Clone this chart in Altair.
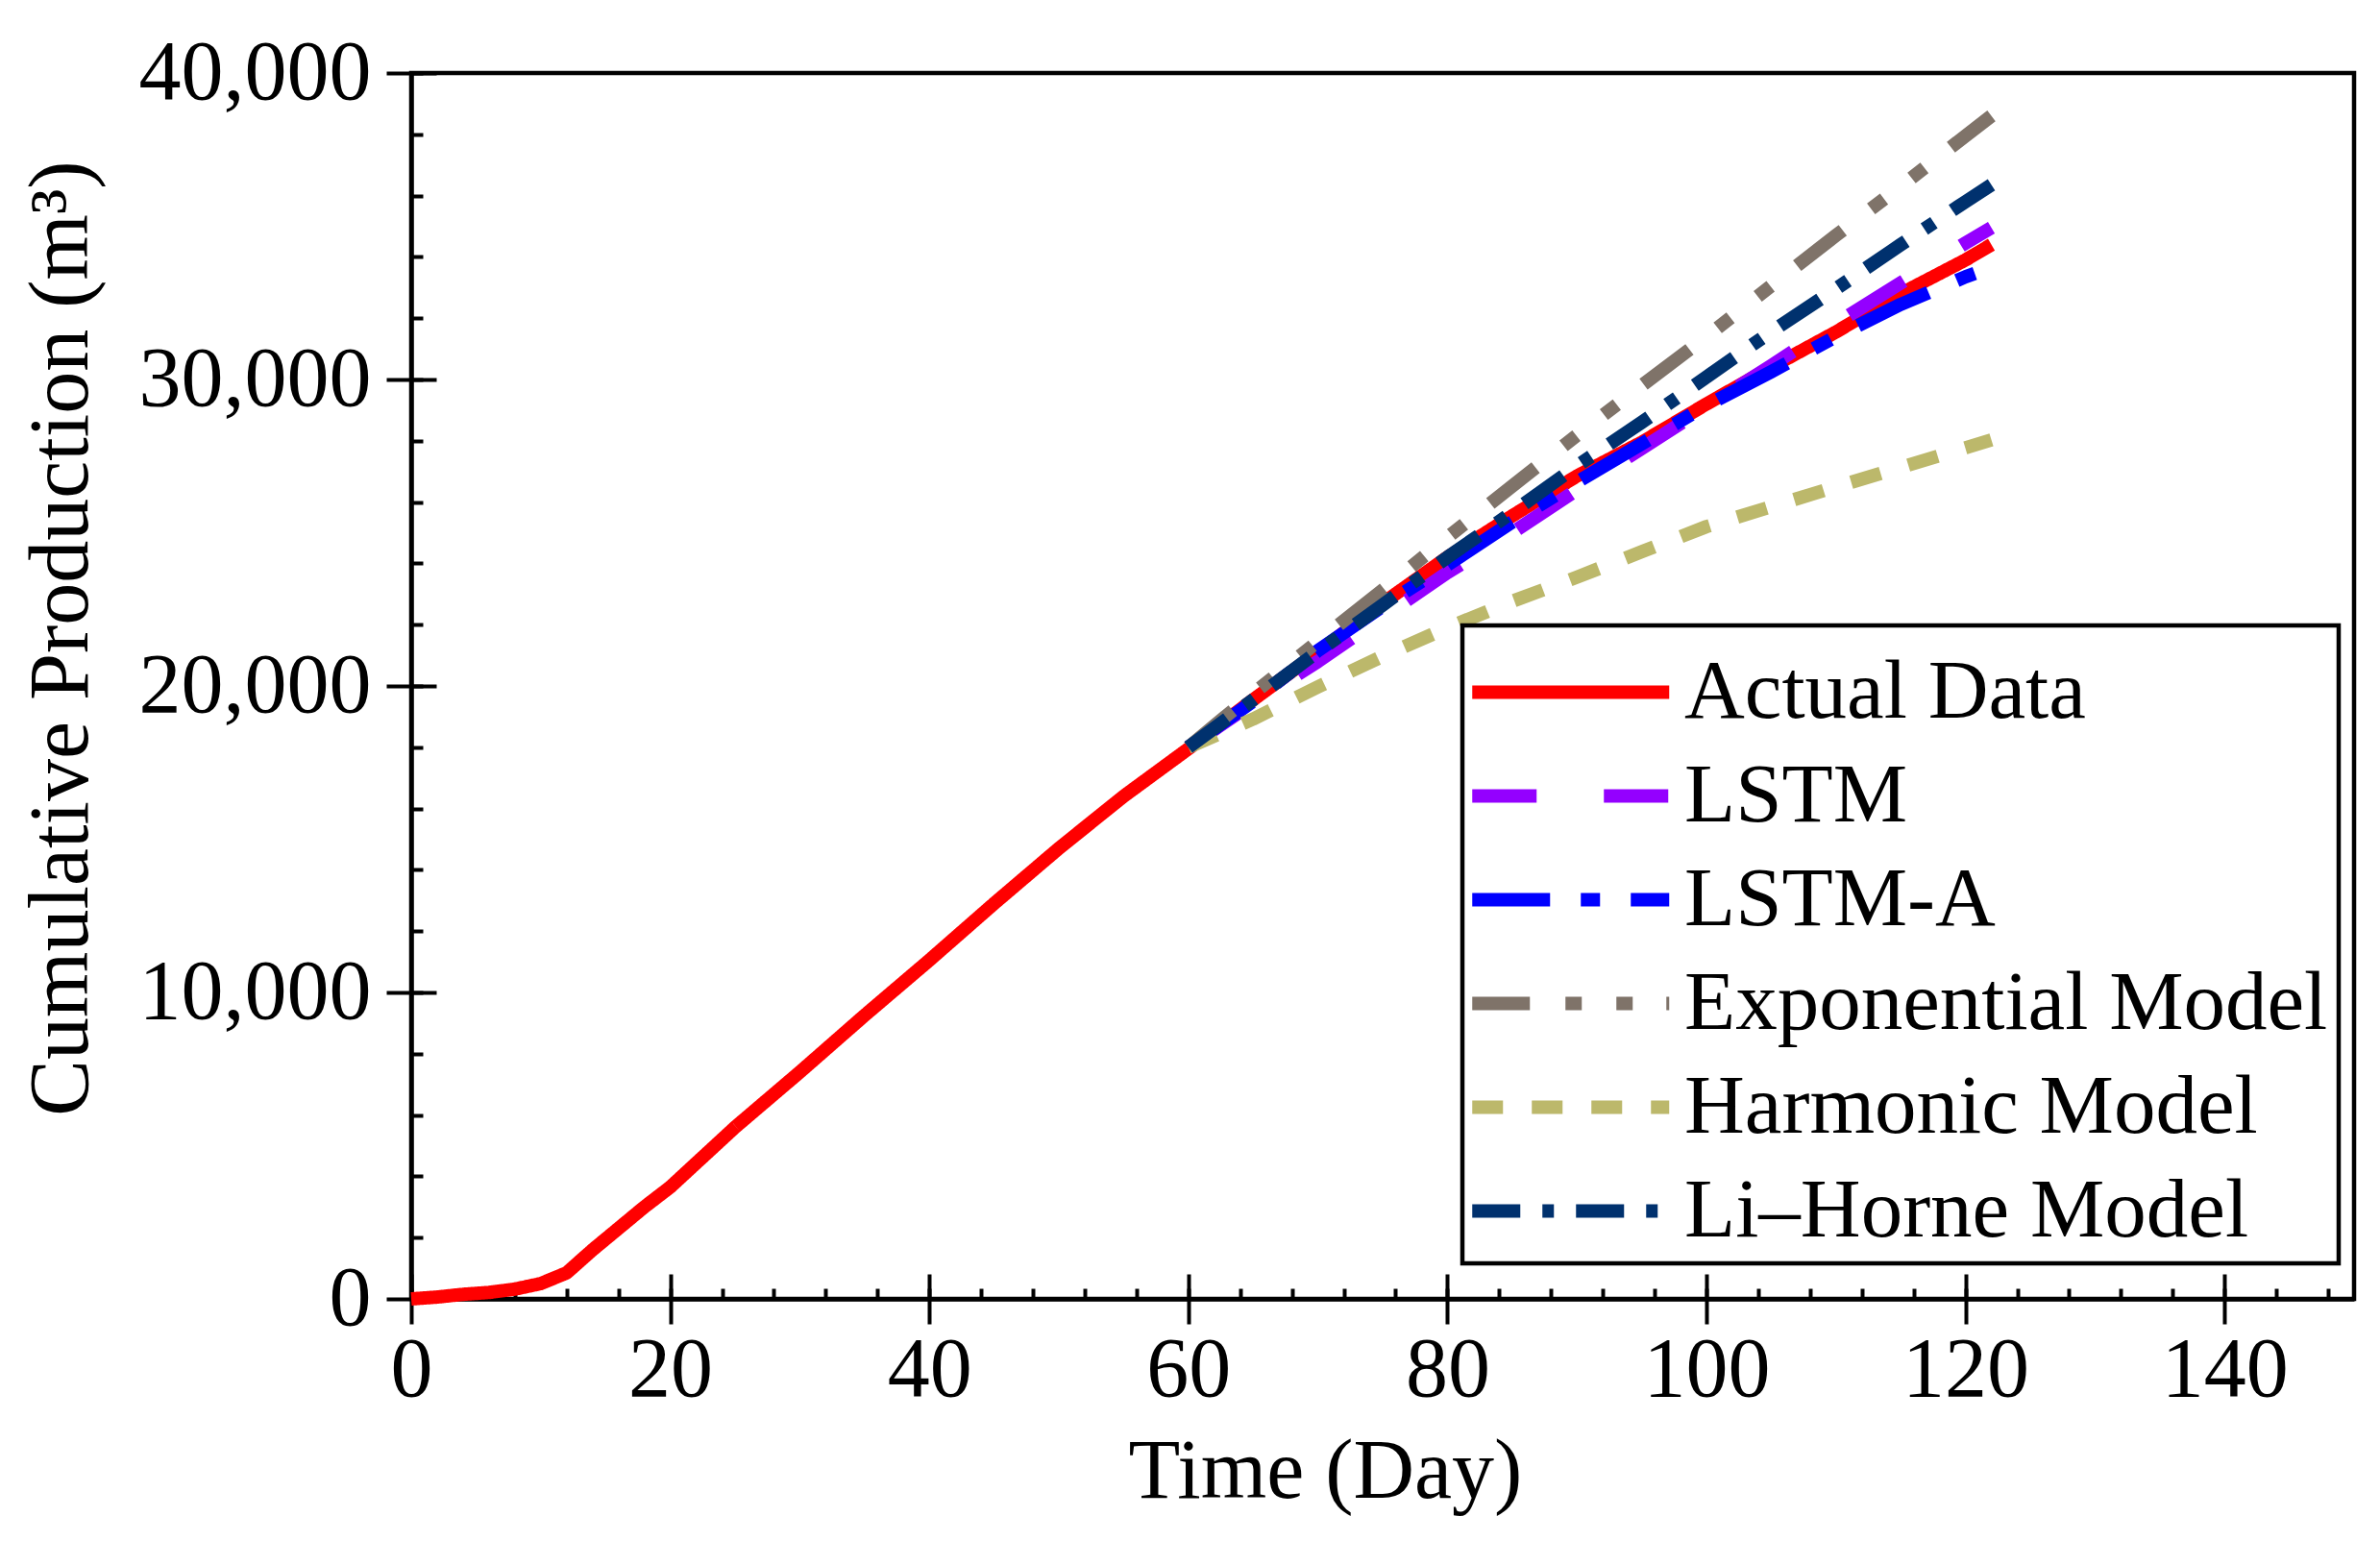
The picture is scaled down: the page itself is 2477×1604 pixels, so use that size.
import altair as alt
import pandas as pd

FONT = "Liberation Serif"

series_names = ["Actual Data", "LSTM", "LSTM-A", "Exponential Model", "Harmonic Model", "Li\u2013Horne Model"]
series_colors = ["#FF0000", "#9400FF", "#0000FF", "#7F7369", "#BCB86B", "#00316E"]
series_dashes = [[1, 0], [67, 70], [81, 32, 20, 32], [60, 37, 17, 36, 17, 35], [32, 30], [50, 23, 12, 23]]

actual_days = [0, 2, 4, 6, 8, 10, 12, 14, 16, 18, 20, 25, 30, 35, 40, 45, 50, 55, 60,
               65, 70, 75, 80, 85, 90, 95, 100, 105, 110, 115, 120, 122]
actual_vals = [0, 60, 150, 210, 320, 500, 850, 1600, 2300, 3000, 3650, 5600, 7400, 9250, 11050,
               12900, 14700, 16400, 17950, 19550, 21100, 22700, 24200, 25550, 26850, 27950,
               29200, 30400, 31550, 32800, 33900, 34400]

pred_days = [60, 65, 70, 75, 80, 85, 90, 95, 100, 105, 110, 115, 120, 122]
lstm_vals = [18000, 19450, 20800, 22250, 23700, 25000, 26400, 27750, 29100, 30450, 31830, 33150, 34450, 34950]
lstma_vals = [18000, 19500, 21150, 22600, 23950, 25350, 26650, 27900, 29150, 30250, 31400, 32450, 33350, 33650]
exp_vals = [18000, 19750, 21450, 23130, 24850, 26520, 28180, 29800, 31400, 33060, 34700, 36300, 37950, 38600]
harm_vals = [18000, 18920, 19970, 20970, 21900, 22760, 23550, 24380, 25200, 25850, 26500, 27130, 27770, 28030]
lihorne_vals = [18000, 19550, 21120, 22640, 24200, 25660, 27180, 28600, 30080, 31560, 32960, 34400, 35800, 36350]

x_major = [0, 20, 40, 60, 80, 100, 120, 140]
x_minor = list(range(0, 151, 4))
y_major = [0, 10000, 20000, 30000, 40000]
y_minor = list(range(0, 40001, 2000))

rows = []
for d, v in zip(actual_days, actual_vals):
    rows.append({"series": series_names[0], "day": d, "value": v, "order": 0})
for k, vals in enumerate([lstm_vals, lstma_vals, exp_vals, harm_vals, lihorne_vals], start=1):
    for d, v in zip(pred_days, vals):
        rows.append({"series": series_names[k], "day": d, "value": v, "order": k})
df = pd.DataFrame(rows)

xscale = alt.Scale(domain=[0, 150], nice=False, zero=False)
yscale = alt.Scale(domain=[0, 40000], nice=False)

legend = alt.Legend(
    title=None, orient="none", legendX=1094, legendY=575,
    symbolType="M-1,0L3,0", symbolSize=10506, symbolStrokeWidth=14, symbolOffset=-8,
    labelFont=FONT, labelFontSize=87, labelColor="black", labelOffset=111,
    rowPadding=6, padding=11, strokeColor="black", fillColor="white", labelLimit=0,
)

lines = alt.Chart(df).mark_line(strokeWidth=14, strokeCap="butt", strokeJoin="round").encode(
    x=alt.X("day:Q", scale=xscale, axis=alt.Axis(
        orient="bottom", values=x_major, tickSize=26, labelFont=FONT, labelFontSize=88,
        labelColor="black", labelPadding=4, labelFlush=False, grid=False, title="Time (Day)",
        titleFont=FONT, titleFontSize=88, titleFontWeight="normal", titleColor="black",
        titleX=951, titleY=206, titleBaseline="alphabetic", titleAlign="center")),
    y=alt.Y("value:Q", scale=yscale, axis=alt.Axis(
        orient="left", values=y_major, tickSize=26, format=",d", labelFont=FONT,
        labelFontSize=88, labelColor="black", labelPadding=16, labelFlush=False, labelLimit=600,
        grid=False,
        title="Cumulative Production (m\u00b3)", titleFont=FONT, titleFontSize=88,
        titleFontWeight="normal", titleColor="black", titleX=-338, titleY=588,
        titleAngle=270, titleBaseline="alphabetic", titleAlign="center")),
    color=alt.Color("series:N", scale=alt.Scale(domain=series_names, range=series_colors), legend=legend),
    strokeDash=alt.StrokeDash("series:N", scale=alt.Scale(domain=series_names, range=series_dashes), legend=legend),
    order=alt.Order("order:Q"),
)

base = alt.Chart(df).mark_line(opacity=0).encode(
    x=alt.X("day:Q", scale=xscale),
    y=alt.Y("value:Q", scale=yscale),
)

inner_major = base.encode(
    x=alt.X("day:Q", scale=xscale, axis=alt.Axis(orient="bottom", values=x_major, offset=-26, tickSize=26,
                                                 labels=False, domain=False, grid=False, title=None)),
    y=alt.Y("value:Q", scale=yscale, axis=alt.Axis(orient="left", values=y_major, offset=-26, tickSize=26,
                                                   labels=False, domain=False, grid=False, title=None)),
)

inner_minor = base.encode(
    x=alt.X("day:Q", scale=xscale, axis=alt.Axis(orient="bottom", values=x_minor, offset=-11, tickSize=11,
                                                 labels=False, domain=False, grid=False, title=None)),
    y=alt.Y("value:Q", scale=yscale, axis=alt.Axis(orient="left", values=y_minor, offset=-12, tickSize=12,
                                                   labels=False, domain=False, grid=False, title=None)),
)

chart = alt.layer(lines, inner_major, inner_minor).resolve_axis(
    x="independent", y="independent"
).properties(
    width=2022, height=1276, autosize="none",
    padding={"left": 420, "top": 68, "right": 19, "bottom": 244},
).configure_view(
    stroke="black", strokeWidth=4.5
).configure_axis(
    domainColor="black", domainWidth=4.5, tickColor="black", tickWidth=4,
).configure_legend(
    strokeWidth=4.5
)

chart.save("out.html", embed_options={"renderer": "svg", "actions": False})
